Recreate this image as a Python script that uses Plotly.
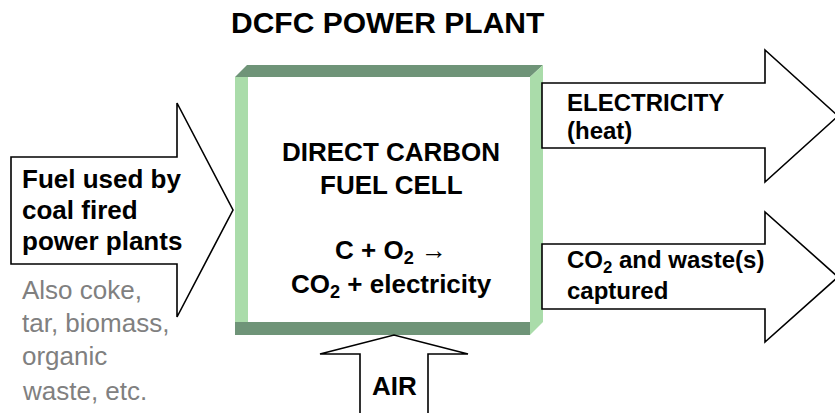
import plotly.graph_objects as go

# ---- text content ----
title_text = "DCFC POWER PLANT"
box_lines = ["DIRECT CARBON", "FUEL CELL"]
reaction_lines = ["C + O<sub>2</sub> →", "CO<sub>2</sub> + electricity"]
fuel_lines = ["Fuel used by", "coal fired", "power plants"]
other_fuel_lines = ["Also coke,", "tar, biomass,", "organic", "waste, etc."]
out1_lines = ["ELECTRICITY", "(heat)"]
out2_lines = ["CO<sub>2</sub> and waste(s)", "captured"]
air_label = "AIR"

# ---- layout geometry (pixel space of the page, y downwards) ----
W, H = 835, 413
FONT = "Liberation Sans, Arial, sans-serif"
DARK = "#6f9478"
LIGHT = "#aadcaa"
GRAY = "#808080"


def poly(pts):
    return "M " + " L ".join(f"{x},{y}" for x, y in pts) + " Z"


shapes = []
# frame of the fuel-cell box
shapes.append(dict(type="path", path=poly([(235, 77), (247, 65), (543, 65), (530, 77)]),
                   fillcolor=DARK, line=dict(width=0)))
shapes.append(dict(type="path", path=poly([(235, 77), (248, 77), (248, 322), (235, 322)]),
                   fillcolor=LIGHT, line=dict(width=0)))
shapes.append(dict(type="path", path=poly([(530, 77), (543, 65), (543, 322), (530, 335)]),
                   fillcolor=LIGHT, line=dict(width=0)))
shapes.append(dict(type="path", path=poly([(235, 322), (530, 322), (530, 335), (235, 335)]),
                   fillcolor=DARK, line=dict(width=0)))

arrow_style = dict(fillcolor="white", line=dict(color="black", width=1.6))
# input fuel arrow
shapes.append(dict(type="path", path=poly([(11, 157), (177, 157), (177, 103), (233, 210),
                                           (177, 317), (177, 264), (11, 264)]), **arrow_style))
# output arrows
shapes.append(dict(type="path", path=poly([(542, 83), (765, 83), (765, 50), (838, 116),
                                           (765, 182), (765, 148), (542, 148)]), **arrow_style))
shapes.append(dict(type="path", path=poly([(542, 244), (765, 244), (765, 212), (838, 277),
                                           (765, 342), (765, 309), (542, 309)]), **arrow_style))
# air arrow
shapes.append(dict(type="path", path=poly([(360, 420), (360, 354), (320, 354), (394, 335),
                                           (468, 354), (428, 354), (428, 420)]), **arrow_style))

annotations = []


def add(text, x, y, size, color="black", bold=True, xanchor="left", align="left"):
    t = f"<b>{text}</b>" if bold else text
    annotations.append(dict(text=t, x=x, y=y, xref="x", yref="y", showarrow=False,
                            xanchor=xanchor, yanchor="middle", align=align,
                            font=dict(family=FONT, size=size, color=color)))


add(title_text, 387, 22, 30, xanchor="center")

for t, y in zip(box_lines, [152, 185]):
    add(t, 391, y, 26, xanchor="center")
add("<br>".join(reaction_lines), 391, 268, 26, xanchor="center", align="center")

for t, y in zip(fuel_lines, [179, 210, 241]):
    add(t, 20, y, 26)

for t, y in zip(other_fuel_lines, [290, 323, 356, 391]):
    add(t, 20, y, 26, color=GRAY, bold=False)

for t, y in zip(out1_lines, [102, 130]):
    add(t, 565, y, 24)
add("<br>".join(out2_lines), 565, 275, 24)

add(air_label, 394, 386, 26, xanchor="center")

fig = go.Figure()
fig.update_layout(
    width=W, height=H,
    margin=dict(l=0, r=0, t=0, b=0),
    paper_bgcolor="white", plot_bgcolor="white",
    xaxis=dict(range=[0, W], visible=False, fixedrange=True),
    yaxis=dict(range=[H, 0], visible=False, fixedrange=True),
    shapes=shapes, annotations=annotations, showlegend=False,
)
fig.write_html("out.html",
               config={"displayModeBar": False, "staticPlot": True},
               post_script="document.body.style.margin='0';document.body.style.overflow='hidden';")
